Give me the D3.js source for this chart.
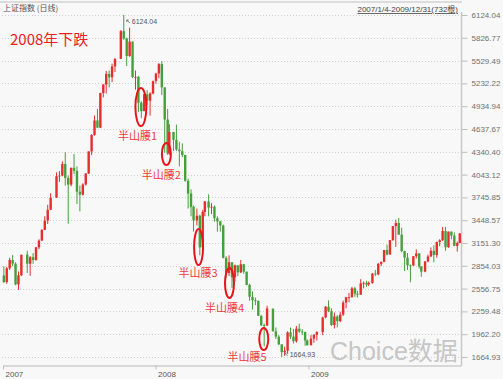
<!DOCTYPE html>
<html>
<head>
<meta charset="utf-8">
<script src="https://cdn.jsdelivr.net/npm/d3@7"></script>
<style>
  html, body { margin: 0; padding: 0; background: #f8f8f8; }
  svg { display: block; font-family: "Liberation Sans", "Noto Sans CJK SC", sans-serif; }
</style>
</head>
<body>
<svg id="chart" width="503" height="379"></svg>
<script>
// 上证指数 2007-2009, weekly bars (week ending date)
const weeks = [
    '2007-01-05','2007-01-12','2007-01-19','2007-01-26','2007-02-02','2007-02-09','2007-02-16','2007-03-02',
    '2007-03-09','2007-03-16','2007-03-23','2007-03-30','2007-04-06','2007-04-13','2007-04-20','2007-04-27',
    '2007-05-11','2007-05-18','2007-05-25','2007-06-01','2007-06-08','2007-06-15','2007-06-22','2007-06-29',
    '2007-07-06','2007-07-13','2007-07-20','2007-07-27','2007-08-03','2007-08-10','2007-08-17','2007-08-24',
    '2007-08-31','2007-09-07','2007-09-14','2007-09-21','2007-09-28','2007-10-12','2007-10-19','2007-10-26',
    '2007-11-02','2007-11-09','2007-11-16','2007-11-23','2007-11-30','2007-12-07','2007-12-14','2007-12-21',
    '2007-12-28',
    '2008-01-04','2008-01-11','2008-01-18','2008-01-25','2008-02-01','2008-02-05','2008-02-15','2008-02-22',
    '2008-02-29','2008-03-07','2008-03-14','2008-03-21','2008-03-28','2008-04-03','2008-04-11','2008-04-18',
    '2008-04-25','2008-04-30','2008-05-09','2008-05-16','2008-05-23','2008-05-30','2008-06-06','2008-06-13',
    '2008-06-20','2008-06-27','2008-07-04','2008-07-11','2008-07-18','2008-07-25','2008-08-01','2008-08-08',
    '2008-08-15','2008-08-22','2008-08-29','2008-09-05','2008-09-12','2008-09-19','2008-09-26','2008-10-10',
    '2008-10-17','2008-10-24','2008-10-31','2008-11-07','2008-11-14','2008-11-21','2008-11-28','2008-12-05',
    '2008-12-12','2008-12-19','2008-12-26','2008-12-31',
    '2009-01-09','2009-01-16','2009-01-23','2009-02-06','2009-02-13','2009-02-20','2009-02-27','2009-03-06',
    '2009-03-13','2009-03-20','2009-03-27','2009-04-03','2009-04-10','2009-04-17','2009-04-24','2009-04-30',
    '2009-05-08','2009-05-15','2009-05-22','2009-05-27','2009-06-05','2009-06-12','2009-06-19','2009-06-26',
    '2009-07-03','2009-07-10','2009-07-17','2009-07-24','2009-07-31','2009-08-07','2009-08-14','2009-08-21',
    '2009-08-28','2009-09-04','2009-09-11','2009-09-18','2009-09-25','2009-09-30','2009-10-09','2009-10-16',
    '2009-10-23','2009-10-30','2009-11-06','2009-11-13','2009-11-20','2009-11-27','2009-12-04','2009-12-11',
    '2009-12-18','2009-12-25','2009-12-31'
];
const opens = [
    2728,2641,2821,2930,2882,2612,2730,3000, 2881,2966,2930,3095,3183,3323,3444,3584,
    3742,4022,4030,4181,4000,3913,4132,4091, 3820,3781,3914,4058,4345,4560,4749,4656,
    5107,5218,5355,5312,5454,5552,5913,5818, 5589,5777,5316,5317,4980,4871,5091,5007,
    5101,
    5265,5361,5484,5180,4761,4320,4599,4497, 4370,4348,4300,3962,3796,3623,3446,3507,
    3094,3557,3693,3613,3624,3474,3433,3379, 2958,2760,2900,2704,2860,2768,2874,2776,
    2605,2450,2405,2397,2202,2079,2075,2293, 2000,1930,1830,1728,1747,1986,1930,1871,
    2034,1997,1990,1880,
    1820,1904,1954,1990,2180,2320,2262,2082, 2193,2133,2218,2374,2444,2445,2560,2490,
    2477,2625,2631,2610,2632,2753,2743,2880, 2906,3060,3001,3189,3372,3412,3260,3046,
    2960,2860,2859,2979,3015,2844,2779,2911, 2976,3050,2995,3164,3187,3308,3096,3300,
    3248,3113,3150
];
const highs = [
    2847,2840,2960,2994,2900,2780,2999,3049, 2980,3020,3100,3200,3330,3500,3650,3800,
    4072,4090,4216,4335,4030,4133,4311,4150, 3900,3930,4060,4345,4570,4814,4900,5110,
    5220,5395,5400,5490,5560,5928,6124.04,5830, 5960,5780,5400,5330,5000,5100,5143,5117,
    5270,
    5370,5497,5522,5180,4900,4700,4600,4695, 4470,4450,4300,3990,3850,3640,3600,3520,
    3583,3700,3786,3670,3640,3500,3440,3390, 2980,2990,2900,2870,2860,2930,2880,2780,
    2620,2520,2440,2400,2210,2100,2333,2300, 2050,1950,1830,1800,2000,2050,2030,2070,
    2100,2030,1995,1895,
    1950,1965,2000,2190,2330,2402,2300,2245, 2210,2255,2400,2450,2500,2580,2579,2530,
    2680,2650,2660,2650,2760,2800,2890,2910, 3060,3130,3190,3372,3455,3478,3350,3050,
    3020,2870,2980,3068,3020,2850,2915,3000, 3093,3123,3170,3200,3361,3361,3300,3300,
    3290,3170,3280
];
const lows = [
    2631,2620,2800,2850,2600,2541,2720,2760, 2723,2880,2920,3070,3180,3320,3400,3580,
    3740,3950,4020,3900,3404,3890,4050,3660, 3563,3770,3900,4050,4300,4550,4650,4650,
    5050,5100,5180,5250,5380,5550,5800,5460, 5580,5300,5150,4860,4778,4870,4950,4812,
    5090,
    5230,5300,5080,4330,4300,4300,4350,4350, 4150,4270,3950,3600,3500,3300,3380,2991,
    3050,3500,3500,3530,3430,3300,3300,2950, 2695,2720,2566,2650,2720,2760,2750,2600,
    2400,2284,2340,2200,2070,1802,2070,2000, 1900,1820,1664.93,1680,1706,1900,1840,1850,
    1980,1950,1810,1814,
    1814,1850,1880,1950,2170,2250,2070,2037, 2050,2120,2200,2300,2380,2440,2450,2440,
    2477,2560,2580,2590,2620,2720,2730,2850, 2900,2990,3000,3180,3100,3260,3030,2785,
    2800,2639,2850,2950,2820,2712,2770,2900, 2970,2900,2960,3110,3180,3050,3090,3200,
    3110,3040,3150
];
const closes = [
    2641,2821,2930,2882,2612,2730,2998,2881, 2966,2930,3095,3183,3323,3444,3584,3742,
    4022,4030,4181,4000,3913,4132,4091,3820, 3781,3914,4058,4345,4560,4749,4656,5107,
    5218,5355,5312,5454,5552,5913,5818,5589, 5777,5316,5317,4980,4871,5091,5007,5101,
    5261,
    5361,5484,5180,4761,4320,4599,4497,4370, 4348,4300,3962,3796,3623,3446,3507,3094,
    3557,3693,3613,3624,3474,3433,3379,2958, 2760,2900,2704,2860,2768,2874,2776,2605,
    2450,2405,2397,2202,2079,2075,2297,2000, 1930,1830,1728,1747,1986,1930,1871,2034,
    1997,1990,1880,1820,
    1904,1954,1990,2180,2320,2262,2082,2193, 2133,2218,2374,2444,2445,2560,2490,2477,
    2625,2631,2610,2632,2753,2743,2880,2906, 3060,3001,3189,3372,3412,3260,3046,2960,
    2860,2859,2979,3015,2844,2779,2911,2976, 3050,2995,3164,3187,3308,3096,3300,3248,
    3113,3150,3277
];

const yTicks = [6124.04, 5826.77, 5529.49, 5232.22, 4934.94, 4637.67, 4340.40, 4043.12,
    3745.85, 3448.57, 3151.30, 2854.03, 2556.75, 2259.48, 1962.20, 1664.93];
const years = ['2007-01-01', '2008-01-01', '2009-01-01'];

// "半山腰" marks: ellipse around a date between two index levels, label below
const waistLabels = ['半山腰1', '半山腰2', '半山腰3', '半山腰4', '半山腰5'];
const waistDates = ['2007-11-27', '2008-01-27', '2008-04-13', '2008-06-26', '2008-09-16'];
const waistHi = [5172, 4455, 3334, 2825, 2043];
const waistLo = [4677, 4168, 2864, 2434, 1756];
const labelDates = ['2007-11-19', '2008-01-15', '2008-04-12', '2008-06-14', '2008-08-07'];
const labelValues = [4546, 4038, 2760, 2304, 1664.93];

const svg = d3.select('#chart');
const parse = d3.timeParse('%Y-%m-%d');

const x = d3.scaleTime()
    .domain([parse('2007-01-01'), parse('2010-01-01')])
    .range([3, 461]);
const y = d3.scaleLinear()
    .domain([yTicks[yTicks.length - 1], yTicks[0]])
    .range([357, 15]);

const bars = weeks.map((w, i) => ({
    date: d3.timeDay.offset(parse(w), -2),
    o: opens[i], h: highs[i], l: lows[i], c: closes[i]
}));

const upColor = '#e62e2e';
const downColor = '#45a03c';

// top band
svg.append('line')
    .attr('x1', 0).attr('x2', 462).attr('y1', 2).attr('y2', 2)
    .attr('stroke', '#dcdcdc').attr('stroke-width', 2);

// grid
svg.append('g')
    .selectAll('line')
    .data(yTicks)
    .enter()
    .append('line')
    .attr('x1', 2).attr('x2', 461)
    .attr('y1', d => Math.round(y(d)) + 0.5)
    .attr('y2', d => Math.round(y(d)) + 0.5)
    .attr('stroke', '#cfcfcf')
    .attr('stroke-dasharray', '1,2');

// right axis
svg.append('line')
    .attr('x1', 461.5).attr('x2', 461.5).attr('y1', 12).attr('y2', 366)
    .attr('stroke', '#c8c8c8').attr('stroke-width', 1.5);
const yAxis = svg.append('g')
    .attr('transform', 'translate(461.5,0)')
    .call(d3.axisRight(y).tickValues(yTicks).tickFormat(d3.format('.2f')).tickSize(6).tickPadding(4));
yAxis.select('.domain').remove();
yAxis.selectAll('line').attr('stroke', '#bdbdbd');
yAxis.selectAll('text').attr('fill', '#707070').attr('font-size', 8)
    .attr('font-family', '"Liberation Sans", sans-serif');

// bottom axis
const xAxis = svg.append('g')
    .attr('transform', 'translate(0,365.5)')
    .call(d3.axisBottom(x).tickValues(years.map(parse)).tickFormat(d3.timeFormat('%Y'))
        .tickSize(4).tickSizeOuter(0).tickPadding(2));
xAxis.select('.domain').attr('stroke', '#cccccc').attr('stroke-width', 1.5);
xAxis.selectAll('line').attr('stroke', '#bdbdbd');
xAxis.selectAll('text').attr('fill', '#555').attr('font-size', 8)
    .attr('text-anchor', 'start').attr('dx', 2)
    .attr('font-family', '"Liberation Sans", sans-serif');

// candles
const candles = svg.append('g')
    .selectAll('g')
    .data(bars)
    .enter()
    .append('g')
    .attr('fill', d => d.c >= d.o ? upColor : downColor)
    .attr('stroke', d => d.c >= d.o ? upColor : downColor);
candles.append('line')
    .attr('x1', d => x(d.date)).attr('x2', d => x(d.date))
    .attr('y1', d => y(d.h)).attr('y2', d => y(d.l))
    .attr('stroke-width', 1);
candles.append('rect')
    .attr('x', d => x(d.date) - 1.2)
    .attr('width', 2.4)
    .attr('y', d => y(Math.max(d.o, d.c)))
    .attr('height', d => Math.max(0.8, Math.abs(y(d.o) - y(d.c))))
    .attr('stroke', 'none');

// peak and trough notes
const peak = bars[d3.maxIndex(bars, d => d.h)];
const trough = bars[d3.minIndex(bars, d => d.l)];
[[peak, peak.h, -1], [trough, trough.l, 1]].forEach(([b, v, dir]) => {
    const px = x(b.date) + 3, py = y(v) + (dir < 0 ? 5 : -4);
    svg.append('path')
        .attr('d', `M${px + 3},${py + 3}L${px},${py}M${px},${py}l2,0M${px},${py}l0,2`)
        .attr('stroke', '#666').attr('fill', 'none').attr('stroke-width', 0.8);
    svg.append('text')
        .attr('x', px + 5).attr('y', py + 4)
        .attr('font-size', 7).attr('fill', '#555')
        .text(d3.format('.2f')(v));
});

// waist marks
svg.append('g')
    .selectAll('ellipse')
    .data(waistDates)
    .enter()
    .append('ellipse')
    .attr('cx', d => x(parse(d)))
    .attr('cy', (d, i) => (y(waistHi[i]) + y(waistLo[i])) / 2)
    .attr('rx', (d, i) => i === 0 ? 5.5 : 4.5)
    .attr('ry', (d, i) => (y(waistLo[i]) - y(waistHi[i])) / 2)
    .attr('fill', 'none')
    .attr('stroke', '#e8141c')
    .attr('stroke-width', 2);
svg.append('g')
    .selectAll('text')
    .data(waistLabels)
    .enter()
    .append('text')
    .attr('x', (d, i) => x(parse(labelDates[i])))
    .attr('y', (d, i) => y(labelValues[i]) + 4)
    .attr('text-anchor', 'middle')
    .attr('font-family', '"Noto Sans CJK SC", sans-serif')
    .attr('font-size', 11)
    .attr('fill', '#f03a3a')
    .text(d => d);

// titles
svg.append('text')
    .attr('x', 3).attr('y', 11)
    .attr('font-size', 8).attr('fill', '#555')
    .attr('font-family', '"Noto Sans CJK SC", sans-serif')
    .text('上证指数 (日线)');
svg.append('text')
    .attr('x', 458).attr('y', 12)
    .attr('text-anchor', 'end')
    .attr('font-size', 8).attr('fill', '#444')
    .attr('text-decoration', 'underline')
    .text('2007/1/4-2009/12/31(732根)');
svg.append('text')
    .attr('x', 10).attr('y', 45)
    .attr('font-family', '"Noto Sans CJK SC", sans-serif')
    .attr('font-size', 15)
    .attr('fill', '#f02020')
    .text('2008年下跌');

// watermark
svg.append('text')
    .attr('x', 330).attr('y', 360)
    .attr('font-size', 25).attr('fill', '#c6c6c6')
    .text('Choice数据');
</script>
</body>
</html>
